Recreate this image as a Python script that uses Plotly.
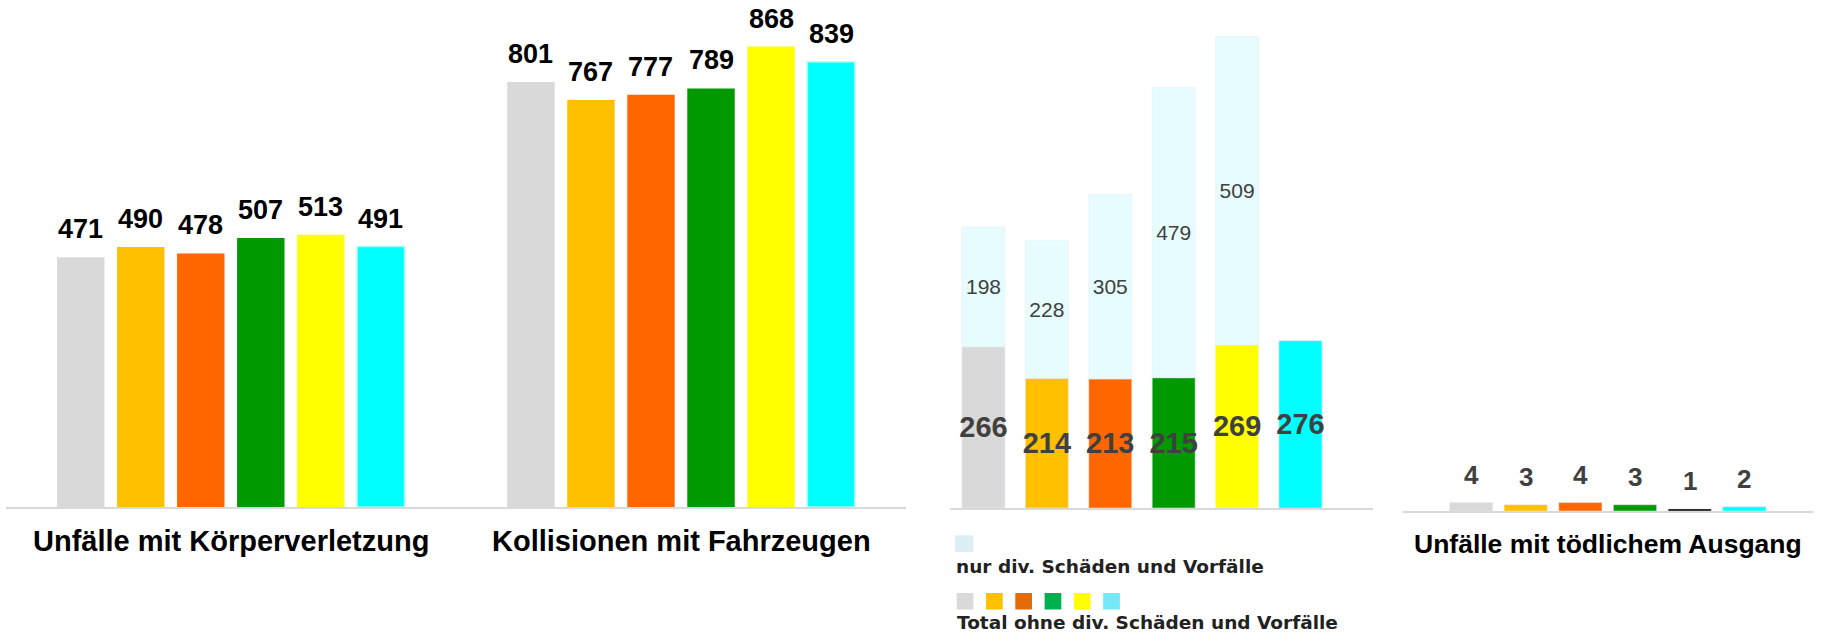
import plotly.graph_objects as go

# the page's default body margin is removed below (post_script), so the
# figure fills the 1825x641 window exactly
OFF = 0
FIG_W, FIG_H = 1825 - OFF, 641 - OFF

# ---------------- data ----------------
series = ["Serie 1", "Serie 2", "Serie 3", "Serie 4", "Serie 5", "Serie 6"]

main_categories = ["Unfälle mit Körperverletzung", "Kollisionen mit Fahrzeugen"]
koerperverletzung = [471, 490, 478, 507, 513, 491]
kollisionen = [801, 767, 777, 789, 868, 839]

total_ohne_div = [266, 214, 213, 215, 269, 276]
nur_div = [198, 228, 305, 479, 509, None]

fatal_category = ["Unfälle mit tödlichem Ausgang"]
toedlich = [4, 3, 4, 3, 1, 2]

legend_label_nur = "nur div. Schäden und Vorfälle"
legend_label_total = "Total ohne div. Schäden und Vorfälle"

# ---------------- styles ----------------
colors = ["#D9D9D9", "#FFC000", "#FF6600", "#009900", "#FFFF00", "#00FFFF"]
fatal_colors = ["#D9D9D9", "#FFC000", "#FF6600", "#009900", "#000000", "#00FFFF"]
light_color = "#E6FCFF"
legend_colors = ["#D9D9D9", "#FFC000", "#E36C0A", "#00B050", "#FFFF00", "#75E8F8"]
legend_light = "#DAEEF3"
FONT = "Liberation Sans, Arial, sans-serif"
LEG_FONT = "DejaVu Sans, Verdana, sans-serif"
BARGAP, GROUPGAP = 0.2, 0.21


def px(xp):
    """page x pixel -> paper fraction"""
    return max(0.0, (xp - OFF) / FIG_W)


def py(yp):
    """page y pixel -> paper fraction"""
    return min(1.0, 1 - (yp - OFF) / FIG_H)


fig = go.Figure()

# ---- left chart: grouped bars ----
main_values = [list(v) for v in zip(koerperverletzung, kollisionen)]
for i, name in enumerate(series):
    fig.add_trace(go.Bar(
        x=main_categories, y=main_values[i], name=name,
        marker=dict(color=colors[i],
                    line=dict(color="#9FFFE8" if i == 5 else colors[i],
                              width=1.5 if i == 5 else 0)),
        xaxis="x", yaxis="y", showlegend=False, hoverinfo="x+y",
    ))

# ---- middle chart: stacked bars ----
mid_width = 0.678
fig.add_trace(go.Bar(
    x=series, y=total_ohne_div, name=legend_label_total,
    marker=dict(color=colors), width=mid_width, offset=-mid_width / 2,
    offsetgroup="mid", xaxis="x2", yaxis="y2", showlegend=False,
    text=total_ohne_div, textposition="inside", insidetextanchor="middle",
    constraintext="none", textangle=0,
    insidetextfont=dict(family=FONT, size=29, color="#404040", weight="bold"),
))
fig.add_trace(go.Bar(
    x=series, y=nur_div, base=total_ohne_div, name=legend_label_nur,
    marker=dict(color=light_color), width=mid_width, offset=-mid_width / 2,
    offsetgroup="mid", xaxis="x2", yaxis="y2", showlegend=False,
    text=nur_div, textposition="inside", insidetextanchor="middle",
    constraintext="none", textangle=0,
    insidetextfont=dict(family=FONT, size=21, color="#404040"),
))

# ---- right chart: grouped bars ----
for i, name in enumerate(series):
    fig.add_trace(go.Bar(
        x=fatal_category, y=[toedlich[i]], name=name,
        marker=dict(color=fatal_colors[i]),
        xaxis="x3", yaxis="y3", showlegend=False,
    ))

annotations = []
slot = (1 - BARGAP) / len(series)
# value labels above grouped bars + category labels
for ci, cat in enumerate(main_categories):
    for i in range(len(series)):
        annotations.append(dict(
            x=ci - (1 - BARGAP) / 2 + (i + 0.5) * slot, y=main_values[i][ci],
            xref="x", yref="y", yanchor="bottom", yshift=11, showarrow=False,
            text=str(main_values[i][ci]),
            font=dict(family=FONT, size=27, color="#000000", weight="bold"),
        ))
    annotations.append(dict(
        x=ci, y=py(541.2), xref="x", yref="paper", yanchor="middle",
        showarrow=False, text=cat,
        font=dict(family=FONT, size=29, color="#000000", weight="bold"),
    ))

for i in range(len(series)):
    annotations.append(dict(
        x=-(1 - BARGAP) / 2 + (i + 0.5) * slot, y=toedlich[i],
        xref="x3", yref="y3", yanchor="bottom", yshift=11, showarrow=False,
        text=str(toedlich[i]),
        font=dict(family=FONT, size=26, color="#404040", weight="bold"),
    ))
annotations.append(dict(
    x=0, y=py(543.8), xref="x3", yref="paper", yanchor="middle",
    showarrow=False, text=fatal_category[0],
    font=dict(family=FONT, size=26.5, color="#000000", weight="bold"),
))

# custom legend for the middle chart
shapes = [dict(type="rect", xref="paper", yref="paper",
               x0=px(955), x1=px(973.3), y0=py(552), y1=py(535.3),
               fillcolor=legend_light, line=dict(width=0))]
for i, c in enumerate(legend_colors):
    x0 = 956.7 + i * 29.3
    shapes.append(dict(type="rect", xref="paper", yref="paper",
                       x0=px(x0), x1=px(x0 + 16.7), y0=py(609.5), y1=py(593),
                       fillcolor=c, line=dict(width=0)))
annotations.append(dict(
    x=px(953.5), y=py(566), xref="paper", yref="paper", xanchor="left",
    yanchor="middle", showarrow=False, text=legend_label_nur,
    font=dict(family=LEG_FONT, size=18.5, color="#222222", weight="bold"),
))
annotations.append(dict(
    x=px(955), y=py(622.5), xref="paper", yref="paper", xanchor="left",
    yanchor="middle", showarrow=False, text=legend_label_total,
    font=dict(family=LEG_FONT, size=18.5, color="#222222", weight="bold"),
))

axis_line = dict(showline=True, linecolor="#D9D9D9", linewidth=2,
                 showticklabels=False, ticks="", showgrid=False,
                 zeroline=False, fixedrange=True)
hidden_y = dict(visible=False, showgrid=False, zeroline=False, fixedrange=True)

# y scales (pixels per unit) and baselines (page px)
LEFT_BASE, LEFT_SCALE = 507, 0.5305
MID_BASE, MID_SCALE = 508, 0.606
RIGHT_BASE, RIGHT_SCALE = 511, 2.1
LEFT_CAT_PX = 450.2            # pixels per category on the left chart
LEFT_X0, LEFT_X1 = 5.7, 906.1  # page px where the left axis spans
left_start = -0.5 + (max(LEFT_X0, OFF) - LEFT_X0) / LEFT_CAT_PX

fig.update_layout(
    width=FIG_W, height=FIG_H,
    margin=dict(l=0, r=0, t=0, b=0),
    paper_bgcolor="white", plot_bgcolor="white",
    barmode="group", bargap=BARGAP, bargroupgap=GROUPGAP,
    font=dict(family=FONT),
    xaxis=dict(domain=[px(LEFT_X0), px(LEFT_X1)], anchor="y",
               range=[left_start, 1.5], type="category", **axis_line),
    yaxis=dict(domain=[py(LEFT_BASE), 1], anchor="x",
               range=[0, (LEFT_BASE - OFF) / LEFT_SCALE], **hidden_y),
    xaxis2=dict(domain=[px(950), px(1372.7)], anchor="y2", range=[-0.528, 6.139],
                type="category", **axis_line),
    yaxis2=dict(domain=[py(MID_BASE), 1], anchor="x2",
                range=[0, (MID_BASE - OFF) / MID_SCALE], **hidden_y),
    xaxis3=dict(domain=[px(1402.7), px(1812.7)], anchor="y3", range=[-0.5, 0.5],
                type="category", **axis_line),
    yaxis3=dict(domain=[py(RIGHT_BASE), 1], anchor="x3",
                range=[0, (RIGHT_BASE - OFF) / RIGHT_SCALE], **hidden_y),
    annotations=annotations,
    shapes=shapes,
    showlegend=False,
)

fig.write_html(
    "out.html",
    config={"displayModeBar": False},
    post_script="document.body.style.margin='0';document.body.style.overflow='hidden';",
)
